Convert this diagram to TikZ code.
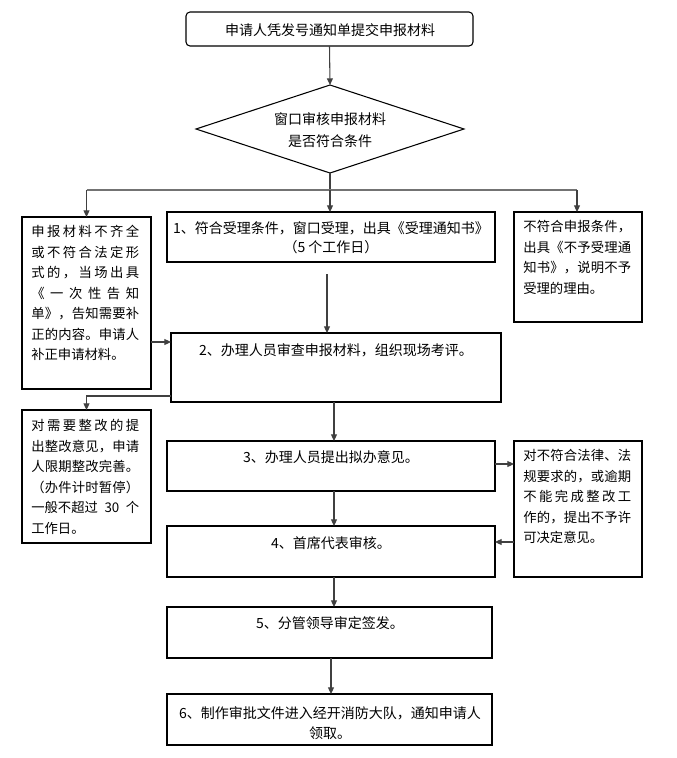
\documentclass[tikz,border=0pt]{standalone}
\usepackage{fontspec}
\setmainfont{Noto Sans CJK SC}
\usetikzlibrary{shapes.geometric,arrows.meta}
\def\spreadaux#1{\ifx#1\relax\else#1\expandafter\spreadnext\fi}
\def\spreadnext#1{\ifx#1\relax\else\hfil#1\expandafter\spreadnext\fi}
\newcommand\sline[1]{\makebox[81pt][s]{\spreadaux#1\relax}}
\newcommand\bx[6][]{\node[boxst,#1,minimum width={(#4-#3)*0.75pt},minimum height={(#6-#5)*0.75pt}] (#2) at ({(#3+#4)/2},{(#5+#6)/2}) {};}
\tikzset{
  boxst/.style={draw=black,line width=0.8pt,rectangle,inner sep=0pt,outer sep=0pt},
  arr/.style={draw=black!75,line width=0.8pt,-{Triangle[length=5pt,width=4.5pt]}},
  ln/.style={draw=black!75,line width=0.8pt},
  maintxt/.style={font=\fontsize{10.5pt}{14.5pt}\selectfont,align=center,inner sep=0pt},
  sidetxt/.style={font=\fontsize{10pt}{15.4pt}\selectfont,align=left,inner sep=0pt,anchor=north west},
}
\begin{document}
\begin{tikzpicture}[x=0.75pt,y=-0.75pt]
\useasboundingbox (0,0) rectangle (676,758);
% boxes
\bx[rounded corners=3pt]{top}{186}{473}{12}{46}
\node[draw=black,line width=0.8pt,diamond,aspect=3,inner sep=0pt,outer sep=0pt,minimum width={268*0.75pt},minimum height={88*0.75pt}] (dia) at (330,129) {};
\bx{B1}{167}{495}{212}{262}
\bx{L1}{22}{151}{217}{389}
\bx{R1}{514}{642}{212}{322}
\bx{B2}{171}{501}{333}{402}
\bx{L2}{22}{151}{410}{543}
\bx{B3}{167}{495}{441}{491}
\bx{B4}{167}{495}{526}{577}
\bx{R2}{514}{642}{441}{577}
\bx{B5}{167}{492}{607}{658}
\bx{B6}{167}{492}{694}{745}
% texts
\node[maintxt] (ttop) at (330,30) {申请人凭发号通知单提交申报材料};
\node[maintxt,font=\fontsize{10.5pt}{16.5pt}\selectfont] (tdia) at (330,130) {窗口审核申报材料\\是否符合条件};
\node[maintxt] (tb1) at (331,238) {1、符合受理条件，窗口受理，出具《受理通知书》\\（5 个工作日）};
\node[maintxt] (tb2) at (336,350) {2、办理人员审查申报材料，组织现场考评。};
\node[maintxt] (tb3) at (331,457) {3、办理人员提出拟办意见。};
\node[maintxt] (tb4) at (331,543) {4、首席代表审核。};
\node[maintxt] (tb5) at (330,623) {5、分管领导审定签发。};
\node[maintxt] (tb6) at (330,723) {6、制作审批文件进入经开消防大队，通知申请人\\领取。};
\node[sidetxt] (tl1) at (31,225) {\sline{申报材料不齐全}\\\sline{或不符合法定形}\\\sline{式的，当场出具}\\\sline{《一次性告知}\\\sline{单》，告知需要补}\\\sline{正的内容。申请人}\\补正申请材料。};
\node[sidetxt] (tr1) at (523,220) {\sline{不符合申报条件，}\\\sline{出具《不予受理通}\\\sline{知书》，说明不予}\\受理的理由。};
\node[sidetxt] (tl2) at (31,419) {\sline{对需要整改的提}\\\sline{出整改意见，申请}\\\sline{人限期整改完善。}\\\sline{（办件计时暂停）}\\\makebox[81pt][s]{一般不超过\hfil 30\hfil 个}\\工作日。};
\node[sidetxt] (tr2) at (523,449) {\sline{对不符合法律、法}\\\sline{规要求的，或逾期}\\\sline{不能完成整改工}\\\sline{作的，提出不予许}\\可决定意见。};
% connectors
\coordinate (j) at (330,190);
\coordinate (jl) at (L1.north |- j);
\coordinate (jr) at (577,190);
\draw[arr] (top.south) -- (dia.north);
\draw[ln] (dia.south) -- (j);
\draw[ln,draw=black!55] (jl) -- (jr);
\draw[arr] (jl) -- (L1.north);
\draw[arr] (j) -- (j |- B1.north);
\draw[arr] (jr) -- (jr |- R1.north);
\coordinate (a1) at (327,274);
\draw[arr] (a1) -- (a1 |- B2.north);
\coordinate (l1o) at (151,342);
\draw[arr] (l1o) -- (l1o -| B2.west);
\coordinate (b2o) at (171,396);
\draw[arr] (b2o) -| (L2.north);
\coordinate (a2) at (334,402);
\draw[arr] (a2) -- (a2 |- B3.north);
\coordinate (a3) at (334,491);
\draw[arr] (a3) -- (a3 |- B4.north);
\coordinate (b3o) at (495,464);
\draw[arr] (b3o) -- (b3o -| R2.west);
\coordinate (r2o) at (514,542);
\draw[arr] (r2o) -- (r2o -| B4.east);
\coordinate (a4) at (334,577);
\draw[arr] (a4) -- (a4 |- B5.north);
\coordinate (a5) at (331,658);
\draw[arr] (a5) -- (a5 |- B6.north);
\end{tikzpicture}
\end{document}
